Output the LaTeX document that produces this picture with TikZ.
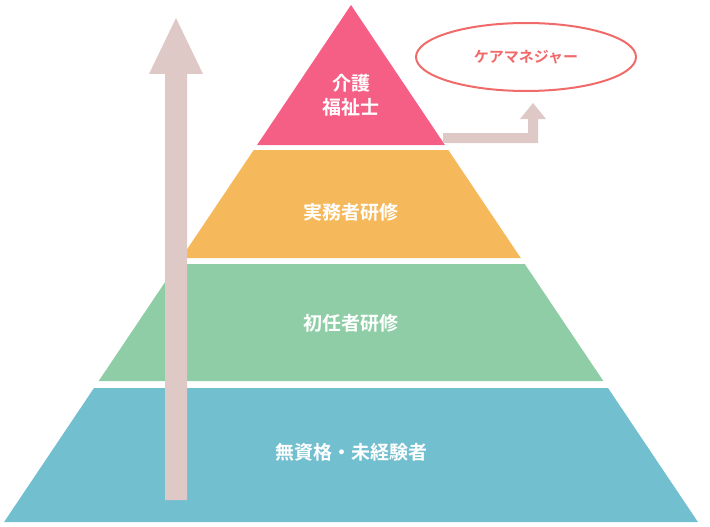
\documentclass[tikz,border=0pt]{standalone}
\usepackage{fontspec}
\usetikzlibrary{shapes.geometric}
\newfontfamily\jp{Noto Sans CJK JP Bold}
\definecolor{cTop}{HTML}{F55F86}
\definecolor{cOr}{HTML}{F5B85A}
\definecolor{cGr}{HTML}{8ECDA6}
\definecolor{cBl}{HTML}{72BFD0}
\definecolor{cAr}{HTML}{DFC9C6}
\definecolor{cRed}{HTML}{F06A6A}
\begin{document}
\begin{tikzpicture}[x=1pt,y=-1pt,
  lab/.style={text=white,font=\jp\fontsize{19}{24}\selectfont,align=center}]
\useasboundingbox (0,0) rectangle (710,527);
\def\L#1{{351-0.671*(#1-5)}}
\def\R#1{{351+0.671*(#1-5)}}
\fill[cTop] (351,5) -- (\R{145},145) -- (\L{145},145) -- cycle;
\fill[cOr] (\L{150},150) -- (\R{150},150) -- (\R{258},258) -- (\L{258},258) -- cycle;
\fill[cGr] (\L{264},264) -- (\R{264},264) -- (\R{381},381) -- (\L{381},381) -- cycle;
\fill[cBl] (\L{388},388) -- (\R{388},388) -- (\R{522},522) -- (\L{522},522) -- cycle;
\node[lab] (t) at (351,95) {介護\\福祉士};
\node[lab] (o) at (351,212) {実務者研修};
\node[lab] (g) at (351,323) {初任者研修};
\node[lab] (b) at (351,452) {無資格・未経験者};
% big arrow
\fill[cAr] (165,500) -- (187,500) -- (187,74) -- (203,74) -- (176,18) -- (149,74) -- (165,74) -- cycle;
% small arrow
\fill[cAr] (443,133) -- (528,133) -- (528,119) -- (520,119) -- (533,103) -- (546,119) -- (538,119) -- (538,143) -- (443,143) -- cycle;
\node[draw=cRed,line width=2pt,ellipse,minimum width=220,minimum height=68,text=cRed,font=\jp\fontsize{15}{18}\selectfont] (cm) at (526,57) {ケアマネジャー};
\end{tikzpicture}
\end{document}
